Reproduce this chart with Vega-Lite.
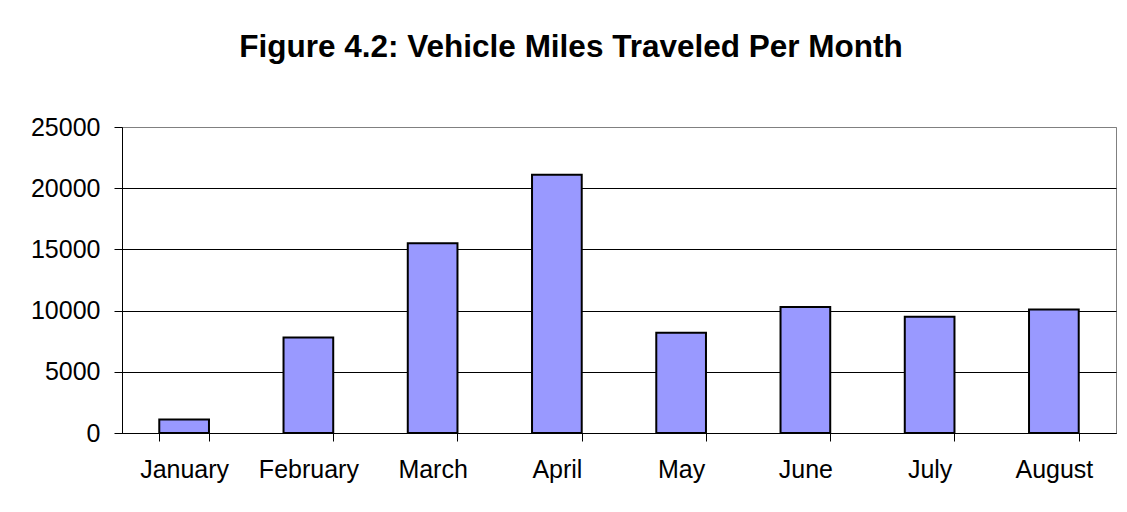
{
  "$schema": "https://vega.github.io/schema/vega-lite/v6.json",
  "autosize": {"type": "none"},
  "width": 994,
  "height": 306,
  "padding": {"left": 122, "top": 127, "right": 11, "bottom": 79},
  "background": "white",
  "title": {
    "text": "Figure 4.2: Vehicle Miles Traveled Per Month",
    "font": "Liberation Sans",
    "fontSize": 31.5,
    "fontWeight": "bold",
    "color": "black",
    "anchor": "middle",
    "dx": -48,
    "offset": 52
  },
  "data": {
    "values": [
      {"month": "January", "miles": 1100},
      {"month": "February", "miles": 7800},
      {"month": "March", "miles": 15500},
      {"month": "April", "miles": 21100},
      {"month": "May", "miles": 8200},
      {"month": "June", "miles": 10300},
      {"month": "July", "miles": 9500},
      {"month": "August", "miles": 10100}
    ]
  },
  "mark": {"type": "bar", "fill": "#9999FF", "stroke": "black", "strokeWidth": 2},
  "encoding": {
    "x": {
      "field": "month",
      "type": "nominal",
      "sort": null,
      "scale": {"paddingInner": 0.6, "paddingOuter": 0.3},
      "axis": {
        "title": null,
        "labelAngle": 0,
        "labelFont": "Liberation Sans",
        "labelFontSize": 25,
        "labelColor": "black",
        "labelPadding": 16,
        "tickBand": "extent",
        "tickSize": 8,
        "tickColor": "black",
        "domainColor": "black",
        "domainWidth": 1,
        "grid": false
      }
    },
    "y": {
      "field": "miles",
      "type": "quantitative",
      "scale": {"domain": [0, 25000], "nice": false},
      "axis": {
        "title": null,
        "values": [0, 5000, 10000, 15000, 20000, 25000],
        "format": "d",
        "labelFont": "Liberation Sans",
        "labelFontSize": 25,
        "labelColor": "black",
        "labelPadding": 14,
        "tickSize": 8,
        "tickColor": "black",
        "domainColor": "black",
        "grid": true,
        "gridColor": {"condition": {"test": "datum.value == 25000", "value": "#808080"}, "value": "black"},
        "gridOpacity": 1
      }
    }
  },
  "config": {
    "view": {"stroke": "#808080", "strokeWidth": 1}
  }
}
